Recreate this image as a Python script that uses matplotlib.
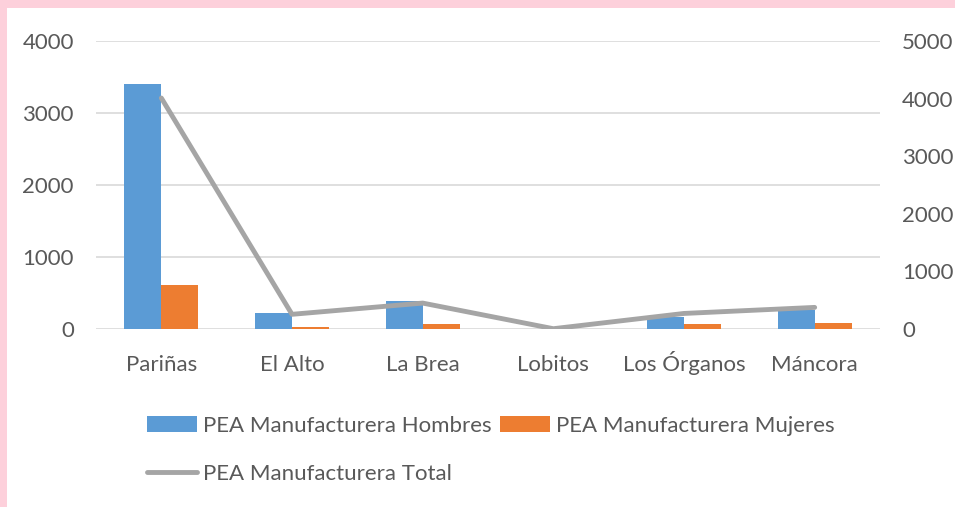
import numpy as np
import matplotlib
matplotlib.use("Agg")
import matplotlib.pyplot as plt
from matplotlib.patches import Rectangle
from matplotlib.lines import Line2D

# DATA
distritos = ["Pariñas", "El Alto", "La Brea", "Lobitos", "Los Órganos", "Máncora"]
hombres = [3400, 225, 385, 4, 165, 265]
mujeres = [610, 28, 65, 1, 65, 80]
total = [4010, 255, 450, 5, 270, 375]
left_ticks = [0, 1000, 2000, 3000, 4000]
right_ticks = [0, 1000, 2000, 3000, 4000, 5000]

plt.rcParams['font.family'] = ['Lato', 'DejaVu Sans']
txt = '#595959'
fs = 16

fig = plt.figure(figsize=(9.55, 5.07), dpi=100)
fig.patch.set_facecolor('#FDD0DB')
fig.patches.append(Rectangle((7/955, 0), 1, 1 - 8/507, transform=fig.transFigure,
                             facecolor='white', edgecolor='none', zorder=-5))

ax = fig.add_axes([96/955, 1 - 329/507, 784/955, 288/507])
ax.set_facecolor('none')
x = np.arange(len(distritos))
w = 0.283
b1 = ax.bar(x - w/2, hombres, w, color='#5B9BD5', zorder=2)
b2 = ax.bar(x + w/2, mujeres, w, color='#ED7D31', zorder=2)
ax.set_xlim(-0.5, len(distritos) - 0.5)
ax.set_ylim(0, 4000)
ax.set_yticks(left_ticks)
ax.set_yticklabels([str(t) for t in left_ticks])
ax.set_xticks(x)
ax.set_xticklabels(distritos, va='baseline')
ax.grid(axis='y', color='#D9D9D9', linewidth=1.2, zorder=0)
for s in ax.spines.values():
    s.set_visible(False)
ax.tick_params(axis='both', length=0, labelsize=fs, labelcolor=txt)
ax.tick_params(axis='y', pad=16)
ax.tick_params(axis='x', pad=30)

ax2 = ax.twinx()
ln, = ax2.plot(x, total, color='#A5A5A5', linewidth=3.5, solid_capstyle='round', zorder=3)
ax2.set_ylim(0, 5000)
ax2.set_yticks(right_ticks)
ax2.set_yticklabels([str(t) for t in right_ticks])
for s in ax2.spines.values():
    s.set_visible(False)
ax2.tick_params(axis='y', length=0, labelsize=fs, labelcolor=txt, pad=16)

handles = [b1, Line2D([], [], color='#A5A5A5', linewidth=3.5, solid_capstyle='round'), b2]
labels = ["PEA Manufacturera Hombres", "PEA Manufacturera Total", "PEA Manufacturera Mujeres"]
fig.legend(handles, labels, ncol=2, loc='upper left', bbox_to_anchor=(147/955, 1 - 416/507),
           frameon=False, fontsize=fs, labelcolor=txt, handlelength=2.25, handleheight=0.7,
           handletextpad=0.25, columnspacing=0.4, labelspacing=1.25, borderaxespad=0,
           borderpad=0)

fig.savefig('out.png', dpi=100)
